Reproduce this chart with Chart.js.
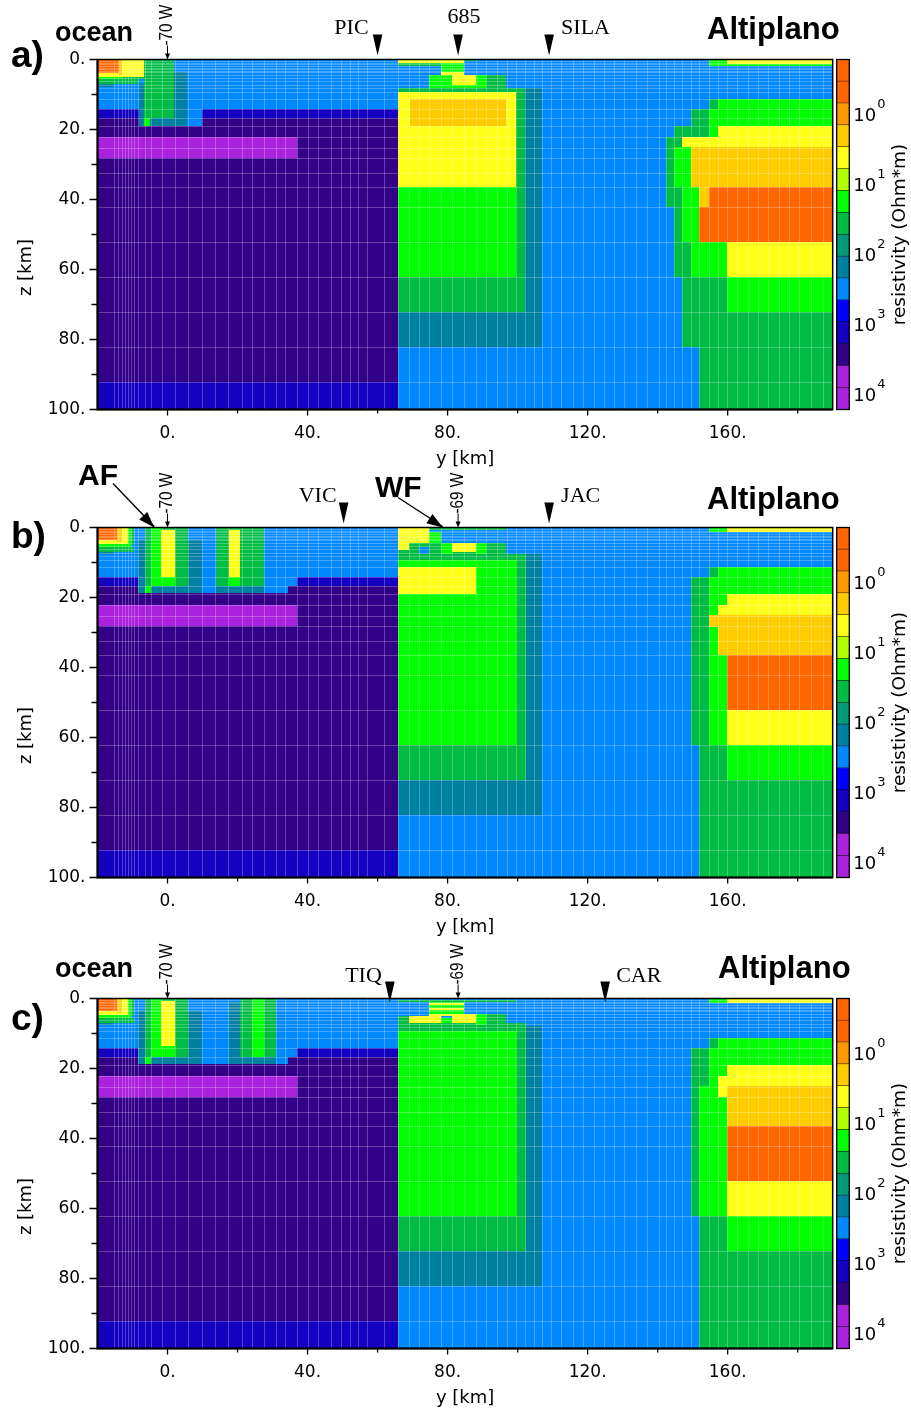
<!DOCTYPE html>
<html>
<head>
<meta charset="utf-8">
<script src="https://cdn.jsdelivr.net/npm/chart.js@4.4.0/dist/chart.umd.min.js"></script>
<style>
  html, body { margin: 0; padding: 0; background: #fff; }
  #wrap { position: relative; width: 911px; height: 1409px; overflow: hidden; }
  .panel { position: absolute; left: 0; }
</style>
</head>
<body>
<div id="wrap">
  <canvas id="pa" class="panel" width="911" height="489" style="top:-20px"></canvas>
  <canvas id="pb" class="panel" width="911" height="489" style="top:448px"></canvas>
  <canvas id="pc" class="panel" width="911" height="489" style="top:919px"></canvas>
</div>
<script>
// resistivity colour scale, low (top) to high (bottom)
const palette = ['#ff6600','#ff6600','#ff9900','#ffcc00','#ffff1a','#b3ff00','#00ff00','#00bb44',
                 '#009977','#0080a0','#0088ff','#0000ff','#1400c0','#330088','#aa22dd','#aa22dd'];
const cbDecades = [0, 1, 2, 3, 4];
const cbRange = [-0.77, 4.23];           // log10(ohm*m) at top / bottom of the bar

const xTicks = [0, 20, 40, 60, 80, 100, 120, 140, 160, 180];
const zTicks = [0, 10, 20, 30, 40, 50, 60, 70, 80, 90, 100];

// model mesh (km)
const meshY = [-15.2,-14.1,-13.1,-12.2,-11.3,-10.3,-9.5,-8.3,-6.5,-4.6,-1.7,2.1,5.9,9.8,13.6,17.4,21.2,24.1,
  27.6,30.9,33.6,37,40,43,46.7,49.5,52.1,54.5,57.1,61.9,65.7,69,71.9,74.8,78.1,81.4,84.8,88.1,90.9,94,97.1,
  99.5,102.1,104.6,107,109.5,112.4,115.7,118.6,121.9,124.7,127.6,130.5,133.8,137.1,140.5,142.4,144.6,146.9,
  149.5,151.9,154.6,157.1,159.7,162.8,165.7,168.6,171.4,174.7,177.6,180.4,183.8,187.1];
const meshZ = [0.4,0.9,1.4,1.9,2.3,2.8,3.3,3.7,4.5,5.2,6.2,7.2,8.1,9.4,11.4,14,16.6,19,22,25.2,28.2,32.3,
  36.4,42,52,62,72,82,92];

// colour indices into palette
const OR = 0, GO = 3, YE = 4, GR = 6, MG = 7, TE = 9, LB = 10, DB = 12, IN = 13, PU = 14;

// cells: [y0, y1, z0, z1, colour], painted in order
const baseCells = [
  [-20, 190, 0, 100, LB],
  [-20, 65.7, 14, 16.6, DB],
  [-20, 65.7, 16.6, 92, IN],
  [-20, 65.7, 92, 100, DB],
  [-20, 37, 22, 28.2, PU],
];

const cellsA = [
  [-20,-4.8,0,4.9,YE],[-20,-13.8,0,3.9,OR],[-13.8,-12.9,0,4.5,GO],
  [-20,-12.9,4.9,5.6,GR],[-12.9,-6.7,4.9,5.6,MG],[-20,-8.1,5.6,6.9,MG],[-20,-15.2,6.9,7.8,TE],
  [-8.1,-6.7,6.9,19,TE],[-6.7,1.9,0,16.6,MG],[-6.7,-5,16.6,19,GR],[-5,5.7,16.6,19,TE],
  [1.9,5.7,3.5,16.6,TE],[5.7,9.8,14,19,LB],
  [65.7,84.8,0,1,YE],[65.7,78.1,1,1.9,MG],[78.1,84.8,1,3.7,GR],[78.1,84.8,3.7,4.5,YE],[84.8,88.1,0,0.5,MG],
  [74.8,81.4,4.5,8.1,GR],[81.4,88.1,4.5,7.2,YE],[81.4,88.1,7.2,8.1,GR],[88.1,90.9,4.5,8.1,GR],[90.9,96.6,4.5,8.1,MG],
  [65.7,107.1,8.1,82,TE],[65.7,102.1,8.1,72,MG],[65.7,99.5,9.4,36.4,YE],[69.2,96.6,11.4,19,GO],[65.7,99.5,36.4,62,GR],
  [154.6,159.7,0,1.9,GR],[159.7,190,0,1.4,YE],[159.7,190,1.4,1.9,GR],
  [154.6,157.1,11.4,14,MG],[157.1,190,11.4,14,GR],
  [149.5,154.6,14,19,MG],[154.6,190,14,19,GR],
  [144.6,154.6,19,22,MG],[154.6,157.1,19,22,GR],[157.1,190,19,22,YE],
  [142.4,146.9,22,25,MG],[146.9,190,22,25,YE],
  [142.4,144.6,25,36.4,MG],[144.6,149.5,25,36.4,GR],[149.5,190,25,36.4,GO],
  [142.4,146.9,36.4,42,MG],[146.9,151.9,36.4,42,GR],[151.9,154.6,36.4,42,GO],[154.6,190,36.4,42,OR],
  [144.6,146.9,42,52,MG],[146.9,151.9,42,52,GR],[151.9,190,42,52,OR],
  [144.6,149.5,52,62,MG],[149.5,159.7,52,62,GR],[159.7,190,52,62,YE],
  [146.9,159.7,62,72,MG],[159.7,190,62,72,GR],
  [146.9,190,72,82,MG],
  [151.9,190,82,100,MG],
];

// coastal conductor shared by b) and c)
const coastBC = [
  [-20,-11.4,0,4.8,YE],[-20,-14.3,0,3.6,OR],[-14.3,-12.9,0,4.2,GO],
  [-11.4,-10.5,0,5.5,GR],[-10.5,-9.5,0,5,MG],[-20,-11.4,4.8,5.5,GR],
  [-20,-9.5,5.5,7.1,MG],[-20,-15.2,7.1,7.7,TE],
];

const cellsB = [
  ...coastBC,
  [-8.3,-6.5,3.6,18.8,TE],[-6.5,5.9,0,16.6,MG],[-4.7,-1.8,0,16.6,GR],[-1.8,2.1,0.6,14,YE],[-1.8,2.1,14,16.6,GR],
  [5.9,9.8,3.6,16.6,TE],[-6.5,-4.7,16.6,18.8,GR],[-4.7,9.8,16.6,18.8,TE],[9.8,13.8,14,18.8,LB],
  [13.8,27.6,0,16.6,MG],[17.6,20.8,0.6,14,YE],[17.6,20.8,14,16.6,GR],[13.8,27.6,16.6,18.8,TE],
  [27.6,34.3,14,18.8,LB],[34.3,36.9,14,16.6,LB],
  [65.7,74.8,0,4.3,YE],[74.8,96.6,0.2,0.8,MG],[74.8,78.1,1.2,4.3,GR],
  [65.7,107.1,7.7,82,TE],[65.7,102.4,7.7,72,MG],[65.7,96.6,4.3,7.7,MG],[65.7,69,4.3,6.5,YE],
  [71.9,74.8,5.5,7.7,LB],[78.1,81.4,4.3,7.7,GR],[81.4,88.1,4.3,6.9,YE],[88.1,90.9,4.3,7.7,GR],
  [65.7,99.5,9.4,62,GR],[65.7,88.1,11.4,19,YE],
  [154.6,159.7,0,1.4,GR],[159.7,190,0,1.4,YE],
  [154.6,157.1,11.4,14,MG],[157.1,190,11.4,19,GR],
  [149.5,154.6,14,62,MG],[154.6,157.1,14,25,GR],
  [157.1,159.7,19,22,GR],[159.7,190,19,25,YE],[157.1,159.7,22,25,YE],
  [154.6,190,25,28.3,GO],[154.6,157.1,28.3,36.4,GR],[157.1,190,28.3,36.4,GO],
  [154.6,159.7,36.4,62,GR],[159.7,190,36.4,52,OR],[159.7,190,52,62,YE],
  [151.9,159.7,62,72,MG],[159.7,190,62,72,GR],
  [151.9,190,72,100,MG],
];

const cellsC = [
  ...coastBC,
  [-8.3,-6.5,3.6,18.8,TE],[-6.5,5.9,0,16.6,MG],[-4.7,-1.8,0,16.6,GR],[-1.8,2.1,0.6,13.6,YE],[-1.8,2.1,13.6,16.6,GR],
  [5.9,9.8,3.6,16.6,TE],[-6.5,-4.7,16.6,18.8,GR],[-4.7,9.8,16.6,18.8,TE],[9.8,17.6,14,18.8,LB],
  [17.6,20.8,1,16.6,TE],[20.8,24.1,0,16.6,MG],[24.1,27.6,0,16.6,GR],[27.6,30.9,0,16.6,MG],
  [17.6,30.9,16.6,18.8,TE],[30.9,34.3,14,18.8,LB],[34.3,37.1,14,16.6,LB],
  [65.7,99.5,0.5,1,MG],[74.8,84.8,1,4.3,GR],[74.8,84.8,1.2,1.8,YE],[74.8,84.8,2.6,3.2,YE],
  [65.7,107.1,7.9,82,TE],[65.7,102.4,6.9,72,MG],
  [65.7,69,4.9,6.9,MG],[69,78.1,4.9,6.9,YE],[74.8,84.8,4.3,4.9,YE],[78.1,81.4,5.5,6.9,GR],
  [81.4,88.1,4.3,6.9,YE],[88.1,90.9,4.3,7.7,GR],[90.9,96.6,4.3,7.7,MG],
  [65.7,99.5,9.4,62,GR],
  [154.6,159.7,0,1.4,GR],[159.7,190,0,1.4,YE],
  [154.6,157.1,11.4,14,MG],[157.1,190,11.4,19,GR],
  [149.5,154.6,14,62,MG],[154.6,157.1,14,62,GR],[151.9,154.6,25,62,GR],
  [157.1,159.7,19,22,GR],[157.1,159.7,22,28,YE],[157.1,159.7,28,62,GR],
  [159.7,190,19,25,YE],[159.7,190,25,36.4,GO],[159.7,190,36.4,52,OR],[159.7,190,52,62,YE],
  [151.9,159.7,62,72,MG],[159.7,190,62,72,GR],
  [151.9,190,72,100,MG],
];

// stations and meridians along the profile (km)
const stationsA = ['PIC', '685', 'SILA'];
const stationKmA = [60, 83, 109];
const stationsB = ['VIC', 'JAC'];
const stationKmB = [50.3, 109];
const stationsC = ['TIQ', 'CAR'];
const stationKmC = [63.5, 125];
const meridians = ['-70 W', '-69 W'];
const meridianKm = [0, 83];
const faultsB = ['AF', 'WF'];
const faultKmB = [-3.8, 78.6];

const PLOT_TOP = 79.5, PLOT_H = 350, PLOT_LEFT = 97.5, PLOT_RIGHT = 832.7, H = 489;
const SERIF = '"Liberation Serif", "Times New Roman", serif';
const SANS = '"Liberation Sans", Arial, sans-serif';
const DEJAVU = '"DejaVu Sans", sans-serif';

const panels = {
  pa: { tag: 'a)', tagDy: 7.5, cells: cellsA, left: 'ocean', leftDy: -19, altX: 707, altDy: -21,
        names: stationsA, kms: stationKmA,
        labels: [{dx: -9, dy: -26, align: 'right'}, {dx: 6, dy: -37, align: 'center'}, {dx: 12, dy: -26, align: 'left'}],
        triTop: -25, meridians: [0] },
  pb: { tag: 'b)', tagDy: 20, cells: cellsB, left: null, altX: 707, altDy: -19,
        names: stationsB, kms: stationKmB,
        labels: [{dx: -7, dy: -26, align: 'right'}, {dx: 12, dy: -26, align: 'left'}],
        triTop: -25, meridians: [0, 1], faults: true },
  pc: { tag: 'c)', tagDy: 31, cells: cellsC, left: 'ocean', leftDy: -22, altX: 718, altDy: -21,
        names: stationsC, kms: stationKmC,
        labels: [{dx: -8, dy: -17, align: 'right'}, {dx: 11, dy: -17, align: 'left'}],
        triTop: -17, meridians: [0, 1] },
};

function fillText(ctx, str, x, y, font, align, base) {
  ctx.font = font;
  ctx.textAlign = align || 'left';
  ctx.textBaseline = base || 'alphabetic';
  ctx.fillStyle = '#000';
  ctx.fillText(str, x, y);
}

function arrowHead(ctx, x0, y0, x1, y1, len, half) {
  const ang = Math.atan2(y1 - y0, x1 - x0);
  ctx.beginPath();
  ctx.moveTo(x1, y1);
  ctx.lineTo(x1 - len * Math.cos(ang) + half * Math.sin(ang), y1 - len * Math.sin(ang) - half * Math.cos(ang));
  ctx.lineTo(x1 - len * Math.cos(ang) - half * Math.sin(ang), y1 - len * Math.sin(ang) + half * Math.cos(ang));
  ctx.closePath();
  ctx.fill();
}

const sectionPlugin = {
  id: 'section',
  beforeDatasetsDraw(chart) {
    const p = panels[chart.canvas.id];
    const { ctx, chartArea: a, scales: { x, y } } = chart;
    ctx.save();
    ctx.beginPath();
    ctx.rect(a.left, a.top, a.right - a.left, a.bottom - a.top);
    ctx.clip();
    for (const [y0, y1, z0, z1, c] of baseCells.concat(p.cells)) {
      const px0 = Math.round(x.getPixelForValue(y0)), px1 = Math.round(x.getPixelForValue(y1));
      const py0 = Math.round(y.getPixelForValue(z0)), py1 = Math.round(y.getPixelForValue(z1));
      ctx.fillStyle = palette[c];
      ctx.fillRect(px0, py0, px1 - px0, py1 - py0);
    }
    // mesh lines
    ctx.strokeStyle = 'rgba(255,255,255,0.25)';
    ctx.lineWidth = 1;
    ctx.beginPath();
    for (const v of meshY) {
      const px = Math.round(x.getPixelForValue(v)) + 0.5;
      ctx.moveTo(px, a.top); ctx.lineTo(px, a.bottom);
    }
    for (const v of meshZ) {
      const py = Math.round(y.getPixelForValue(v)) + 0.5;
      ctx.moveTo(a.left, py); ctx.lineTo(a.right, py);
    }
    ctx.stroke();
    ctx.restore();

    // frame and tick marks
    ctx.save();
    ctx.strokeStyle = '#000';
    ctx.lineWidth = 1.5;
    ctx.strokeRect(a.left, a.top, a.right - a.left, a.bottom - a.top);
    ctx.lineWidth = 2;
    ctx.beginPath();
    ctx.moveTo(a.left, a.top); ctx.lineTo(a.left, a.bottom); ctx.lineTo(a.right, a.bottom);
    ctx.stroke();
    ctx.lineWidth = 1.3;
    ctx.beginPath();
    for (const v of zTicks) {
      const py = y.getPixelForValue(v), len = v % 20 === 0 ? 8 : 6;
      ctx.moveTo(a.left, py); ctx.lineTo(a.left - len, py);
    }
    for (const v of xTicks) {
      const px = x.getPixelForValue(v), len = v % 40 === 0 ? 6 : 4;
      ctx.moveTo(px, a.bottom); ctx.lineTo(px, a.bottom + len);
    }
    ctx.stroke();
    ctx.restore();
  },
  afterDraw(chart) {
    const p = panels[chart.canvas.id];
    const { ctx, chartArea: a, scales: { x, cb } } = chart;
    ctx.save();

    // axis titles
    fillText(ctx, 'y [km]', (a.left + a.right) / 2, a.bottom + 50, '18px ' + DEJAVU, 'center', 'middle');
    ctx.save();
    ctx.translate(26, a.top + 208);
    ctx.rotate(-Math.PI / 2);
    fillText(ctx, 'z [km]', 0, 0, '18px ' + DEJAVU, 'center', 'middle');
    ctx.restore();

    // colour bar
    const bx = a.right + 4, bw = 12.6;
    const step = (cbRange[1] - cbRange[0]) / palette.length;
    ctx.strokeStyle = '#000';
    ctx.lineWidth = 1;
    palette.forEach((col, k) => {
      const y0 = cb.getPixelForValue(cbRange[0] + k * step);
      const y1 = cb.getPixelForValue(cbRange[0] + (k + 1) * step);
      ctx.fillStyle = col;
      ctx.fillRect(bx, y0, bw, y1 - y0);
      ctx.beginPath(); ctx.moveTo(bx, y1); ctx.lineTo(bx + bw, y1); ctx.stroke();
    });
    ctx.lineWidth = 1.3;
    ctx.strokeRect(bx, a.top, bw, a.bottom - a.top);
    for (const d of cbDecades) {
      const py = cb.getPixelForValue(d);
      fillText(ctx, '10', bx + bw + 4, py + 8, '18px ' + DEJAVU, 'left', 'alphabetic');
      fillText(ctx, String(d), bx + bw + 28, py - 5, '13px ' + DEJAVU, 'left', 'alphabetic');
    }
    ctx.save();
    ctx.translate(bx + 63, a.top + 175);
    ctx.rotate(-Math.PI / 2);
    fillText(ctx, 'resistivity (Ohm*m)', 0, 0, '18.5px ' + DEJAVU, 'center', 'middle');
    ctx.restore();

    // panel tag and region names
    fillText(ctx, p.tag, 11, a.top + p.tagDy, 'bold 37px ' + SANS, 'left', 'alphabetic');
    if (p.left) fillText(ctx, p.left, 55, a.top + p.leftDy, 'bold 27px ' + SANS, 'left', 'alphabetic');
    fillText(ctx, 'Altiplano', p.altX, a.top + p.altDy, 'bold 31px ' + SANS, 'left', 'alphabetic');

    // stations
    ctx.fillStyle = '#000';
    p.names.forEach((name, i) => {
      const px = x.getPixelForValue(p.kms[i]);
      const t0 = a.top + p.triTop, t1 = t0 + 21;
      ctx.beginPath();
      ctx.moveTo(px - 4.8, t0); ctx.lineTo(px + 4.8, t0); ctx.lineTo(px, t1);
      ctx.closePath(); ctx.fill();
      const l = p.labels[i];
      fillText(ctx, name, px + l.dx, a.top + l.dy, '22px ' + SERIF, l.align, 'alphabetic');
    });

    // meridian markers
    for (const m of p.meridians) {
      const px = x.getPixelForValue(meridianKm[m]);
      ctx.save();
      ctx.translate(px, a.top - 14);
      ctx.rotate(-Math.PI / 2);
      ctx.scale(0.85, 1);
      fillText(ctx, meridians[m], 0, 0, '18px ' + SANS, 'left', 'middle');
      ctx.restore();
      ctx.strokeStyle = '#000';
      ctx.lineWidth = 1;
      ctx.beginPath(); ctx.moveTo(px, a.top - 14); ctx.lineTo(px, a.top - 4); ctx.stroke();
      arrowHead(ctx, px, a.top - 14, px, a.top, 6, 2.5);
    }

    // fault arrows
    if (p.faults) {
      const tails = [[113, -44], [398, -30]];
      const texts = [[78, -43], [375, -31]];
      faultsB.forEach((f, i) => {
        const px = x.getPixelForValue(faultKmB[i]);
        fillText(ctx, f, texts[i][0], a.top + texts[i][1], 'bold 30px ' + SANS, 'left', 'alphabetic');
        ctx.strokeStyle = '#000';
        ctx.lineWidth = 1.4;
        ctx.beginPath();
        ctx.moveTo(tails[i][0], a.top + tails[i][1]);
        ctx.lineTo(px, a.top - 1);
        ctx.stroke();
        arrowHead(ctx, tails[i][0], a.top + tails[i][1], px, a.top, 16, 5.5);
      });
    }
    ctx.restore();
  }
};

const tickFont = { family: 'DejaVu Sans', size: 17 };

function makePanel(id) {
  return new Chart(document.getElementById(id), {
    type: 'scatter',
    data: { datasets: [] },
    options: {
      responsive: false,
      animation: false,
      events: [],
      layout: { padding: { top: PLOT_TOP, right: 911 - PLOT_RIGHT, left: 0, bottom: 0 } },
      plugins: { legend: { display: false }, tooltip: { enabled: false } },
      scales: {
        x: {
          type: 'linear', position: 'bottom', min: -20, max: 190,
          afterBuildTicks: s => { s.ticks = xTicks.map(v => ({ value: v })); },
          afterFit: s => { s.height = H - PLOT_TOP - PLOT_H; },
          grid: { display: false, drawTicks: false },
          border: { display: false },
          ticks: { autoSkip: false, maxRotation: 0, padding: 14, color: '#000', font: tickFont,
                   callback: v => (v % 40 === 0 ? v + '.' : '') }
        },
        y: {
          type: 'linear', position: 'left', min: 0, max: 100, reverse: true,
          afterBuildTicks: s => { s.ticks = zTicks.map(v => ({ value: v })); },
          afterFit: s => { s.width = PLOT_LEFT; },
          grid: { display: false, drawTicks: false },
          border: { display: false },
          ticks: { autoSkip: false, padding: 12, color: '#000', font: tickFont,
                   callback: v => (v % 20 === 0 ? v + '.' : '') }
        },
        cb: { axis: 'y', type: 'linear', position: 'right', display: false,
              min: cbRange[0], max: cbRange[1], reverse: true }
      }
    },
    plugins: [sectionPlugin]
  });
}

['pa', 'pb', 'pc'].forEach(makePanel);
</script>
</body>
</html>
